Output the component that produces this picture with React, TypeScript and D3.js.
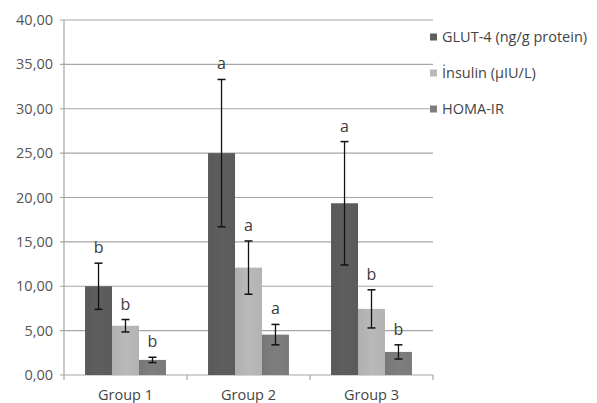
import React from "react";
import * as d3 from "d3";

const categories = ["Group 1", "Group 2", "Group 3"];
const seriesNames = ["GLUT-4 (ng/g protein)", "İnsulin (µIU/L)", "HOMA-IR"];
const glut = [10.0, 25.0, 19.35];
const insulin = [5.55, 12.1, 7.45];
const homa = [1.7, 4.55, 2.6];
const glutErr = [2.6, 8.3, 6.95];
const insulinErr = [0.7, 3.0, 2.15];
const homaErr = [0.3, 1.15, 0.8];
const glutLetters = ["b", "a", "a"];
const insulinLetters = ["b", "a", "b"];
const homaLetters = ["b", "a", "b"];
const yTicks = [0, 5, 10, 15, 20, 25, 30, 35, 40];

const colors = ["#5e5e5e", "#b9b9b9", "#7e7e7e"];
const font = "'Open Sans', 'DejaVu Sans', sans-serif";

export default function App() {
  const W = 597, H = 403;
  const left = 64, right = 433, top = 20, bottom = 375;
  const y = d3.scaleLinear().domain([0, 40]).range([bottom, top]);
  const x0 = d3.scaleBand().domain(categories).range([left, right]).paddingInner(0).paddingOuter(0);
  const x1 = d3.scaleBand().domain(seriesNames).range([0, x0.bandwidth()]).paddingOuter(0.78).paddingInner(0);
  const values = [glut, insulin, homa];
  const errs = [glutErr, insulinErr, homaErr];
  const letters = [glutLetters, insulinLetters, homaLetters];
  const fmt = (v: number) => v.toFixed(2).replace(".", ",");
  const tickXs = [left, ...categories.map((c) => (x0(c) as number) + x0.bandwidth())];

  return (
    <svg width={W} height={H} style={{ position: "absolute", left: 0, top: 0, background: "#fff" }}>
      <defs>
        {colors.map((c, i) => (
          <linearGradient key={i} id={`g${i}`} x1="0" x2="1" y1="0" y2="0">
            <stop offset="0" stopColor={d3.color(c)!.darker(0.15).toString()} />
            <stop offset="0.5" stopColor={c} />
            <stop offset="1" stopColor={d3.color(c)!.darker(0.1).toString()} />
          </linearGradient>
        ))}
      </defs>
      {yTicks.map((t) => (
        <g key={t}>
          <line x1={left - 4} x2={right} y1={y(t)} y2={y(t)} stroke="#a6a6a6" strokeWidth={1.2} />
          <text x={53} y={y(t) + 5} textAnchor="end" fontSize={14.5} fill="#555" fontFamily={font}>
            {fmt(t)}
          </text>
        </g>
      ))}
      <line x1={left} x2={left} y1={top} y2={bottom} stroke="#a6a6a6" strokeWidth={1.2} />
      {tickXs.map((tx, i) => (
        <line key={i} x1={tx} x2={tx} y1={bottom} y2={bottom + 5} stroke="#a6a6a6" strokeWidth={1.2} />
      ))}
      {categories.map((c, ci) => (
        <g key={c} transform={`translate(${x0(c)},0)`}>
          {seriesNames.map((s, si) => {
            const v = values[si][ci];
            const e = errs[si][ci];
            const bx = x1(s) as number;
            const bw = x1.bandwidth();
            const cx = bx + bw / 2;
            return (
              <g key={s}>
                <rect x={bx} y={y(v)} width={bw} height={bottom - y(v)} fill={`url(#g${si})`} />
                <line x1={cx} x2={cx} y1={y(v + e)} y2={y(v - e)} stroke="#111" strokeWidth={1.3} />
                <line x1={cx - 4} x2={cx + 4} y1={y(v + e)} y2={y(v + e)} stroke="#111" strokeWidth={1.5} />
                <line x1={cx - 4} x2={cx + 4} y1={y(v - e)} y2={y(v - e)} stroke="#111" strokeWidth={1.5} />
                <text x={cx} y={y(v + e) - 10} textAnchor="middle" fontSize={16} fill="#3a3a3a" fontFamily={font}>
                  {letters[si][ci]}
                </text>
              </g>
            );
          })}
          <text x={x0.bandwidth() / 2} y={400} textAnchor="middle" fontSize={14.5} fill="#444" fontFamily={font}>
            {c}
          </text>
        </g>
      ))}
      {seriesNames.map((s, i) => (
        <g key={s} transform={`translate(430,${37 + i * 36})`}>
          <rect x={0} y={-3.5} width={7} height={7} fill={colors[i]} />
          <text x={12} y={5} fontSize={14.5} fill="#444" fontFamily={font}>
            {s}
          </text>
        </g>
      ))}
    </svg>
  );
}
